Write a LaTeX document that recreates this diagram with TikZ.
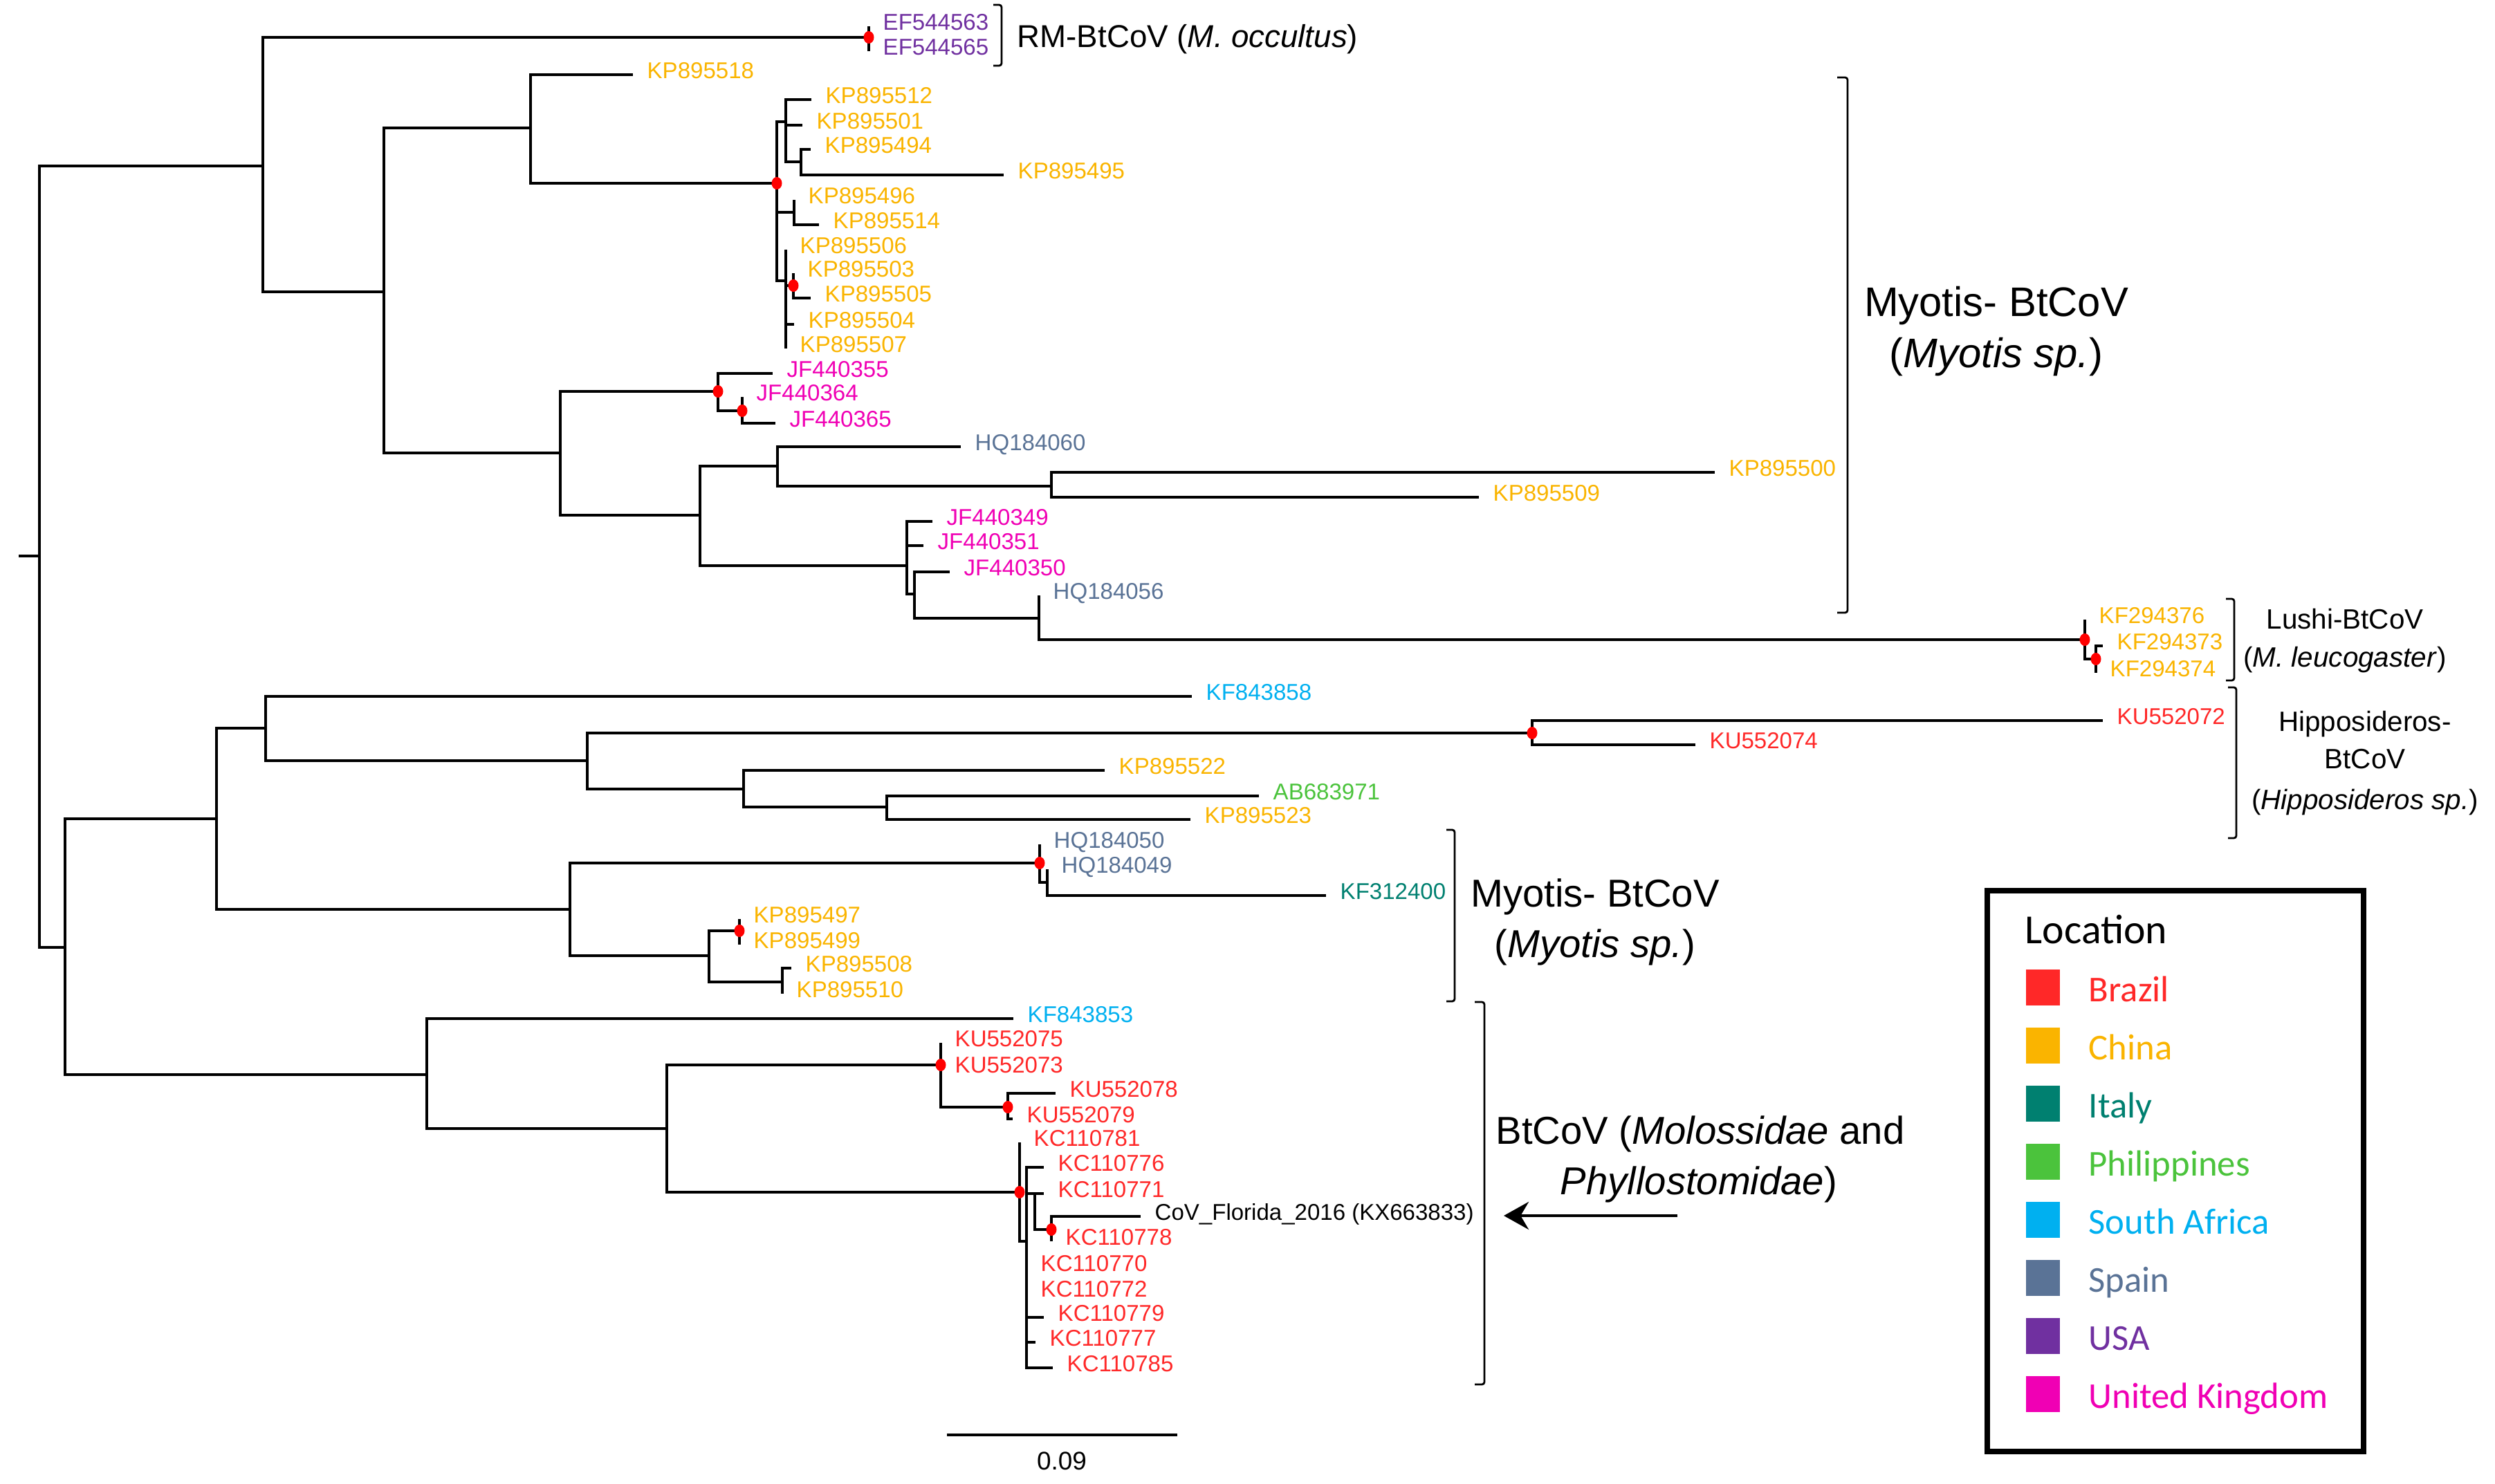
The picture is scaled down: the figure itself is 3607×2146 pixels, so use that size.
\documentclass[tikz,border=0pt]{standalone}
\usepackage{fontspec}
\setmainfont{Liberation Sans}
\newfontfamily\legendfont{Carlito}
\usetikzlibrary{arrows.meta}

\definecolor{brazil}{RGB}{255,40,40}
\definecolor{china}{RGB}{250,180,0}
\definecolor{italy}{RGB}{0,128,112}
\definecolor{phil}{RGB}{75,195,60}
\definecolor{safrica}{RGB}{0,176,240}
\definecolor{spain}{RGB}{90,115,150}
\definecolor{usa}{RGB}{112,48,160}
\definecolor{uk}{RGB}{240,0,180}

\begin{document}
\begin{tikzpicture}[x=0.1mm,y=-0.1mm,
        branch/.style={line width=1.35pt},
        brk/.style={line width=0.8pt, rounded corners=1pt},
        tip/.style={anchor=base west, inner sep=0pt, xshift=2mm, yshift=-0.58mm,
                        font=\fontsize{9.4}{11}\selectfont},
        grp/.style={anchor=base, inner sep=0pt},
        leg/.style={anchor=base west, inner sep=0pt,
                        font=\legendfont\fontsize{15}{18}\selectfont},
        dot/.style={fill=red}]
    \useasboundingbox (0,0) rectangle (3607,2146);
    % inner nodes of the tree
    \foreach \n/\x/\y in {root/57/804, nA/380/240, rm/1256/54, nA2/555/422,
            nA3/767/185, k1/1123/265, k2/1136/176, k3/1158/234, k4/1148/307,
            k5/1136/406, k6/1147/413, nA4/810/655, j1/1038/566, j2/1073/594,
            nA5/1012/745, h1/1124/674, h2/1520/703, p1/1311/818, p2/1322/859,
            p3/1502/894, l1/3014/925, l2/3030/953,
            nB/94/1370, nC1/313/1184, nC2/384/1053, nC3/849/1100, hi1/2215/1060,
            nC4/1075/1141, nC5/1282/1167, nD1/824/1315, d2/1503/1248, d3/1514/1276,
            d4/1025/1382, d5/1069/1346, d6/1131/1420, nE1/617/1554, nE2/964/1632,
            f1/1360/1540, f2/1457/1601, g1/1474/1724, g2/1484/1795, g3/1496/1726,
            g4/1520/1778}
        \coordinate (\n) at (\x,\y);
    % leaves
    \foreach \n/\x/\y/\col/\txt in {
            ef563/1256/38/usa/EF544563, ef565/1256/74/usa/EF544565,
            kp518/915/108/china/KP895518, kp512/1173/144/china/KP895512,
            kp501/1160/181/china/KP895501, kp494/1172/216/china/KP895494,
            kp495/1451/253/china/KP895495, kp496/1148/289/china/KP895496,
            kp514/1184/325/china/KP895514, kp506/1136/361/china/KP895506,
            kp503/1147/395/china/KP895503, kp505/1172/431/china/KP895505,
            kp504/1148/469/china/KP895504, kp507/1136/504/china/KP895507,
            jf355/1117/540/uk/JF440355, jf364/1073/574/uk/JF440364,
            jf365/1121/612/uk/JF440365, hq060/1389/646/spain/HQ184060,
            kp500/2479/683/china/KP895500, kp509/2138/719/china/KP895509,
            jf349/1348/754/uk/JF440349, jf351/1335/789/uk/JF440351,
            jf350/1373/827/uk/JF440350, hq056/1502/861/spain/HQ184056,
            kf376/3014/896/china/KF294376, kf373/3040/934/china/KF294373,
            kf374/3030/973/china/KF294374,
            kf858/1723/1007/safrica/KF843858, ku072/3040/1042/brazil/KU552072,
            ku074/2451/1077/brazil/KU552074, kp522/1597/1114/china/KP895522,
            ab971/1820/1151/phil/AB683971, kp523/1721/1185/china/KP895523,
            hq050/1503/1221/spain/HQ184050, hq049/1514/1257/spain/HQ184049,
            kf400/1917/1295/italy/KF312400, kp497/1069/1329/china/KP895497,
            kp499/1069/1366/china/KP895499, kp508/1144/1400/china/KP895508,
            kp510/1131/1437/china/KP895510, kf853/1465/1473/safrica/KF843853,
            ku075/1360/1508/brazil/KU552075, ku073/1360/1546/brazil/KU552073,
            ku078/1526/1581/brazil/KU552078, ku079/1464/1618/brazil/KU552079,
            kc781/1474/1652/brazil/KC110781, kc776/1509/1688/brazil/KC110776,
            kc771/1509/1726/brazil/KC110771,
            flo/1649/1759/black/CoV\_Florida\_2016 (KX663833),
            kc778/1520/1795/brazil/KC110778, kc770/1484/1833/brazil/KC110770,
            kc772/1484/1870/brazil/KC110772, kc779/1509/1905/brazil/KC110779,
            kc777/1497/1941/brazil/KC110777, kc785/1522/1978/brazil/KC110785}{
        \coordinate (\n) at (\x,\y);
        \node[tip, text=\col] (\n-t) at (\n) {\txt};
    }
    \coordinate (stub) at (27,804);
    \draw[branch] (stub) -- (root);
    \foreach \a/\b in {root/nA, root/nB, nA/rm, nA/nA2, rm/ef563, rm/ef565,
            nA2/nA3, nA2/nA4, nA3/kp518, nA3/k1, k1/k2, k1/k4, k1/k5,
            k2/kp512, k2/kp501, k2/k3, k3/kp494, k3/kp495, k4/kp496, k4/kp514,
            k5/kp506, k5/k6, k5/kp504, k5/kp507, k6/kp503, k6/kp505,
            nA4/j1, nA4/nA5, j1/jf355, j1/j2, j2/jf364, j2/jf365,
            nA5/h1, nA5/p1, h1/hq060, h1/h2, h2/kp500, h2/kp509,
            p1/jf349, p1/jf351, p1/p2, p2/jf350, p2/p3, p3/hq056, p3/l1,
            l1/kf376, l1/l2, l2/kf373, l2/kf374,
            nB/nC1, nB/nE1, nC1/nC2, nC1/nD1, nC2/kf858, nC2/nC3,
            nC3/hi1, nC3/nC4, hi1/ku072, hi1/ku074, nC4/kp522, nC4/nC5,
            nC5/ab971, nC5/kp523, nD1/d2, nD1/d4, d2/hq050, d2/d3,
            d3/hq049, d3/kf400, d4/d5, d4/d6, d5/kp497, d5/kp499,
            d6/kp508, d6/kp510, nE1/kf853, nE1/nE2, nE2/f1, nE2/g1,
            f1/ku075, f1/ku073, f1/f2, f2/ku078, f2/ku079, g1/kc781, g1/g2,
            g2/kc776, g2/g3, g2/kc770, g2/kc772, g2/kc779, g2/kc777, g2/kc785,
            g3/kc771, g3/g4, g4/flo, g4/kc778}
        \draw[branch] (\a) |- (\b);
    \foreach \n in {rm,k1,k6,j1,j2,l1,l2,hi1,d2,d5,f1,f2,g1,g4}
        \fill[dot] (\n) ellipse [x radius=7.5, y radius=9];
    % clade brackets
    \draw[brk] (1448,7) ++(-12,0) -- ++(12,0) -- (1448,95) -- ++(-12,0);
    \draw[brk] (2671,112) ++(-15,0) -- ++(15,0) -- (2671,886) -- ++(-15,0);
    \draw[brk] (3230,866) ++(-12,0) -- ++(12,0) -- (3230,984) -- ++(-12,0);
    \draw[brk] (3233,994) ++(-12,0) -- ++(12,0) -- (3233,1212) -- ++(-12,0);
    \draw[brk] (2103,1200) ++(-12,0) -- ++(12,0) -- (2103,1448) -- ++(-12,0);
    \draw[brk] (2146,1449) ++(-14,0) -- ++(14,0) -- (2146,2002) -- ++(-14,0);
    \node[grp, anchor=base west, font=\fontsize{13}{16}\selectfont] (rmT)
        at (1470,69) {RM-BtCoV (\textit{M. occultus})};
    \node[grp, font=\fontsize{17}{20}\selectfont] (myoA1) at (2886,458) {Myotis- BtCoV};
    \node[grp, font=\fontsize{17}{20}\selectfont] (myoA2) at (2886,532) {(\textit{Myotis sp.})};
    \node[grp, font=\fontsize{11.5}{14}\selectfont] (lus1) at (3390,909) {Lushi-BtCoV};
    \node[grp, font=\fontsize{11.5}{14}\selectfont] (lus2) at (3390,964) {(\textit{M. leucogaster})};
    \node[grp, font=\fontsize{11.5}{14}\selectfont] (hip1) at (3419,1057) {Hipposideros-};
    \node[grp, font=\fontsize{11.5}{14}\selectfont] (hip2) at (3419,1111) {BtCoV};
    \node[grp, font=\fontsize{11.5}{14}\selectfont] (hip3) at (3419,1170) {(\textit{Hipposideros sp.})};
    \node[grp, font=\fontsize{16}{19}\selectfont] (myoB1) at (2306,1311) {Myotis- BtCoV};
    \node[grp, font=\fontsize{16}{19}\selectfont] (myoB2) at (2306,1384) {(\textit{Myotis sp.})};
    \node[grp, font=\fontsize{16}{19}\selectfont] (bt1) at (2458,1654) {BtCoV (\textit{Molossidae} and};
    \node[grp, font=\fontsize{16}{19}\selectfont] (bt2) at (2456,1727) {\textit{Phyllostomidae})};
    % arrow to the Florida strain
    \coordinate (arT) at (2425,1758);
    \coordinate (arH) at (2174,1758);
    \draw[line width=1.3pt, -{Stealth[length=3.6mm, width=4mm]}] (arT) -- (arH);
    % scale bar
    \coordinate (sbL) at (1369,2075);
    \coordinate (sbR) at (1702,2075);
    \draw[branch] (sbL) -- (sbR);
    \node[grp, font=\fontsize{10.5}{12}\selectfont] (sbT) at (1535,2125) {0.09};
    % legend
    \draw[line width=2.2pt] (2873,1288) rectangle (3417,2099);
    \node[leg, font=\legendfont\fontsize{17}{20}\selectfont] (locT) at (2927,1364) {Location};
    \foreach \col/\txt [count=\i from 0] in {brazil/Brazil, china/China, italy/Italy,
            phil/Philippines, safrica/South Africa, spain/Spain, usa/USA,
            uk/United Kingdom}{
        \fill[\col] (2929,{1402+84*\i}) rectangle ++(49,52);
        \node[leg, text=\col] (leg\i) at (3019,{1448+84*\i}) {\txt};
    }
\end{tikzpicture}
\end{document}
